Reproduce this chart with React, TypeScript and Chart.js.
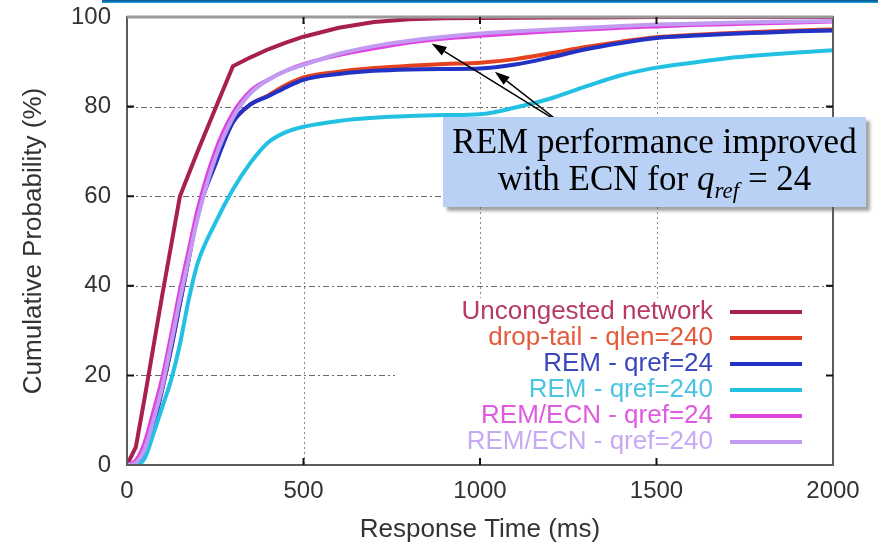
import React, { useEffect, useRef } from "react";
import { Chart, registerables } from "chart.js";

Chart.register(...registerables);

// ---- data ----
const responseTimes = [
  0, 25, 50, 75, 100, 125, 150, 175, 200, 250, 300, 350, 400, 450, 500,
  600, 700, 800, 900, 1000, 1100, 1200, 1300, 1400, 1500, 1600, 1700, 1800, 1900, 2000,
];

const uncongested = [
  0, 4, 15, 26.5, 38, 49, 60, 65, 70, 79.5, 89, 91, 92.8, 94.3, 95.6,
  97.6, 98.9, 99.5, 99.7, 99.8, 99.85, 99.9, 99.9, 99.95, 100, 100, 100, 100, 100, 100,
];
const dropTail240 = [
  0, 0.3, 3, 9, 17, 26, 36, 46, 56, 67.5, 76.5, 80.5, 82.5, 84.8, 86.5,
  87.8, 88.6, 89.1, 89.5, 89.8, 90.6, 91.9, 93.3, 94.5, 95.5, 96, 96.4, 96.7, 97, 97.2,
];
const rem24 = [
  0, 0.3, 3, 9, 17, 26, 36, 46, 56, 67, 76.5, 80.5, 82.3, 84.3, 86,
  87.3, 88, 88.3, 88.4, 88.5, 89.4, 91, 92.8, 94.2, 95.3, 95.8, 96.2, 96.5, 96.8, 97,
];
const rem240 = [
  0, 0, 1.5, 7, 13, 19, 27, 37, 45, 54, 61.5, 67.5, 72, 74.3, 75.5,
  76.8, 77.5, 77.9, 78.1, 78.3, 79.8, 81.8, 84.5, 87, 88.7, 89.8, 90.8, 91.5, 92.1, 92.6,
];
const remEcn24 = [
  0, 1, 5, 12, 19.5, 29, 39, 48, 57, 70, 78.5, 83.5, 86, 88, 89.5,
  91.5, 93, 94.3, 95.2, 95.8, 96.3, 96.8, 97.2, 97.6, 97.9, 98.2, 98.4, 98.6, 98.8, 99,
];
const remEcn240 = [
  0, 0.5, 3.5, 10, 17.5, 27, 37, 46, 55, 68.5, 77.5, 83, 86, 88, 89.3,
  91.8, 93.5, 94.7, 95.6, 96.3, 96.8, 97.2, 97.6, 98, 98.3, 98.5, 98.7, 98.9, 99, 99.1,
];

const seriesLabels = [
  "Uncongested network",
  "drop-tail - qlen=240",
  "REM - qref=24",
  "REM - qref=240",
  "REM/ECN - qref=24",
  "REM/ECN - qref=240",
];
const seriesValues = [uncongested, dropTail240, rem24, rem240, remEcn24, remEcn240];
const seriesColors = ["#a8204e", "#e4421e", "#2232c4", "#22c0e2", "#e042e0", "#c29af2"];
const legendTextColors = ["#b83a64", "#e45a3a", "#3a48bc", "#4ac4e0", "#e05ae0", "#c8aaf4"];

const xTickValues = [0, 500, 1000, 1500, 2000];
const yTickValues = [0, 20, 40, 60, 80, 100];

// annotation arrows in data coordinates
const arrowTail = [1236, 75.9];
const arrowHeads = [
  [863, 94.1],
  [1042, 87.8],
];

const decorPlugin = {
  id: "decor",
  beforeDatasetsDraw(chart: any) {
    const { ctx, chartArea: a, scales } = chart;
    const xs = scales.x, ys = scales.y;
    ctx.save();
    ctx.strokeStyle = "#6a6a6a";
    ctx.lineWidth = 1;
    ctx.setLineDash([6, 3, 2, 3]);
    yTickValues.slice(1, -1).forEach((v) => {
      const y = Math.round(ys.getPixelForValue(v)) + 0.5;
      ctx.beginPath();
      ctx.moveTo(a.left, y);
      ctx.lineTo(a.right, y);
      ctx.stroke();
    });
    ctx.strokeStyle = "#8a8a8a";
    ctx.setLineDash([2, 3]);
    xTickValues.slice(1, -1).forEach((v) => {
      const x = Math.round(xs.getPixelForValue(v)) + 0.5;
      ctx.beginPath();
      ctx.moveTo(x, a.top);
      ctx.lineTo(x, a.bottom);
      ctx.stroke();
    });
    ctx.setLineDash([]);
    const lx = a.left + 268, ly = a.top + 281;
    ctx.fillStyle = "#ffffff";
    ctx.fillRect(lx, ly, a.right - lx - 1, a.bottom - ly - 1);
    ctx.restore();
  },
  afterDatasetsDraw(chart: any) {
    const { ctx, chartArea: a, scales } = chart;
    const xs = scales.x, ys = scales.y;
    ctx.save();
    ctx.strokeStyle = "#5c5c5c";
    ctx.lineWidth = 2;
    ctx.strokeRect(a.left, a.top, a.right - a.left, a.bottom - a.top);
    ctx.strokeStyle = "#9a9a9a";
    ctx.lineWidth = 3;
    ctx.beginPath();
    ctx.moveTo(a.left, a.top);
    ctx.lineTo(a.right, a.top);
    ctx.stroke();
    ctx.strokeStyle = "#111";
    ctx.lineWidth = 2;
    xTickValues.slice(1, -1).forEach((v) => {
      const x = xs.getPixelForValue(v);
      ctx.beginPath();
      ctx.moveTo(x, a.bottom);
      ctx.lineTo(x, a.bottom - 7);
      ctx.moveTo(x, a.top);
      ctx.lineTo(x, a.top + 7);
      ctx.stroke();
    });
    yTickValues.slice(1, -1).forEach((v) => {
      const y = ys.getPixelForValue(v);
      ctx.beginPath();
      ctx.moveTo(a.left, y);
      ctx.lineTo(a.left + 7, y);
      ctx.moveTo(a.right, y);
      ctx.lineTo(a.right - 7, y);
      ctx.stroke();
    });
    // legend
    ctx.font = "26px 'Liberation Sans', Arial, sans-serif";
    ctx.textAlign = "right";
    ctx.textBaseline = "middle";
    const textRight = a.right - 120;
    const lineStart = a.right - 103;
    const lineEnd = a.right - 31;
    seriesLabels.forEach((lab, i) => {
      const y = a.top + 295 + i * 26;
      ctx.fillStyle = legendTextColors[i];
      ctx.fillText(lab, textRight, y);
      ctx.strokeStyle = seriesColors[i];
      ctx.lineWidth = 4;
      ctx.beginPath();
      ctx.moveTo(lineStart, y);
      ctx.lineTo(lineEnd, y);
      ctx.stroke();
    });
    // arrows
    const tx = xs.getPixelForValue(arrowTail[0]);
    const ty = ys.getPixelForValue(arrowTail[1]);
    ctx.strokeStyle = "#000";
    ctx.fillStyle = "#000";
    ctx.lineWidth = 1.5;
    arrowHeads.forEach(([hxv, hyv]) => {
      const hx = xs.getPixelForValue(hxv);
      const hy = ys.getPixelForValue(hyv);
      const ang = Math.atan2(hy - ty, hx - tx);
      const len = 15, wid = 5;
      const bx = hx - len * Math.cos(ang), by = hy - len * Math.sin(ang);
      ctx.beginPath();
      ctx.moveTo(tx, ty);
      ctx.lineTo(bx, by);
      ctx.stroke();
      ctx.beginPath();
      ctx.moveTo(hx, hy);
      ctx.lineTo(bx + wid * Math.sin(ang), by - wid * Math.cos(ang));
      ctx.lineTo(bx - wid * Math.sin(ang), by + wid * Math.cos(ang));
      ctx.closePath();
      ctx.fill();
    });
    ctx.restore();
  },
};

export default function App() {
  const canvasRef = useRef<HTMLCanvasElement | null>(null);

  useEffect(() => {
    if (!canvasRef.current) return;
    const tickFont = { family: "'Liberation Sans', Arial, sans-serif", size: 24 };
    const titleFont = { family: "'Liberation Sans', Arial, sans-serif", size: 26 };
    const chart = new Chart(canvasRef.current, {
      type: "line",
      data: {
        datasets: seriesValues.map((vals, i) => ({
          label: seriesLabels[i],
          data: responseTimes.map((x, j) => ({ x, y: vals[j] })),
          borderColor: seriesColors[i],
          backgroundColor: seriesColors[i],
          borderWidth: 4,
          pointRadius: 0,
          fill: false,
          tension: i === 0 ? 0 : 0.4,
          cubicInterpolationMode: i === 0 ? "default" : "monotone",
          order: 5 - i,
          borderJoinStyle: "round",
        })),
      },
      options: {
        animation: false,
        responsive: false,
        devicePixelRatio: 1,
        layout: { padding: { top: 17, right: 45, left: 0, bottom: 0 } },
        plugins: { legend: { display: false }, tooltip: { enabled: false } },
        scales: {
          x: {
            type: "linear",
            min: 0,
            max: 2000,
            afterBuildTicks: (s: any) => {
              s.ticks = xTickValues.map((v) => ({ value: v }));
            },
            afterFit: (s: any) => {
              s.height = 80;
              s.paddingLeft = 0;
              s.paddingRight = 0;
            },
            ticks: {
              font: tickFont,
              color: "#333",
              padding: 12,
              maxRotation: 0,
              callback: (v: any) => String(v),
            },
            grid: { display: false, drawTicks: false },
            border: { display: false },
            title: {
              display: true,
              text: "Response Time (ms)",
              font: titleFont,
              color: "#333",
              padding: { top: 0, bottom: 0 },
            },
          },
          y: {
            type: "linear",
            min: 0,
            max: 100,
            afterBuildTicks: (s: any) => {
              s.ticks = yTickValues.map((v) => ({ value: v }));
            },
            afterFit: (s: any) => {
              s.width = 127;
              s.paddingTop = 0;
              s.paddingBottom = 0;
            },
            ticks: { font: tickFont, color: "#333", padding: 16, callback: (v: any) => String(v) },
            grid: { display: false, drawTicks: false },
            border: { display: false },
            title: {
              display: true,
              text: "Cumulative Probability (%)",
              font: titleFont,
              color: "#333",
              padding: { top: 18, bottom: 0 },
            },
          },
        },
      },
      plugins: [decorPlugin],
    } as any);
    return () => chart.destroy();
  }, []);

  return (
    <div
      style={{
        position: "fixed",
        left: 0,
        top: 0,
        width: 878,
        height: 545,
        background: "#fff",
        overflow: "hidden",
      }}
    >
      <canvas ref={canvasRef} width={878} height={545} style={{ display: "block" }} />
      <div
        style={{
          position: "absolute",
          left: 102,
          top: 0,
          width: 776,
          height: 3,
          background: "linear-gradient(#0a4a8a, #1aa8e4)",
        }}
      />
      <div
        style={{
          position: "absolute",
          left: 443,
          top: 117,
          width: 423,
          height: 90,
          background: "#b8d1f5",
          boxShadow: "4px 4px 3px rgba(90,90,90,0.55)",
          fontFamily: "'Liberation Serif', 'Times New Roman', serif",
          fontSize: 35,
          lineHeight: "37px",
          color: "#000",
          textAlign: "center",
          paddingTop: 6,
          boxSizing: "border-box",
          whiteSpace: "nowrap",
        }}
      >
        <div>REM performance improved</div>
        <div>
          with ECN for <i>q</i>
          <sub style={{ fontSize: 23, lineHeight: 0 }}>
            <i>ref</i>
          </sub>{" "}
          = 24
        </div>
      </div>
    </div>
  );
}
